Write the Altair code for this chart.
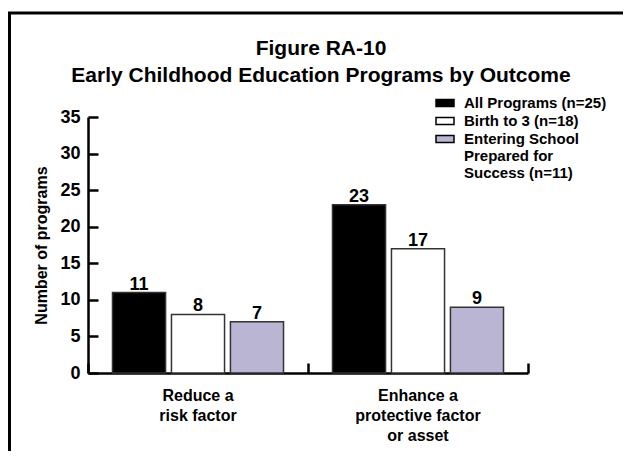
import altair as alt
import pandas as pd

categories = ["Reduce a\nrisk factor", "Enhance a\nprotective factor\nor asset"]
series = ["All Programs (n=25)", "Birth to 3 (n=18)", "Entering School\nPrepared for\nSuccess (n=11)"]
all_programs = [11, 23]
birth_to_3 = [8, 17]
entering_school = [7, 9]
colors = ["#000000", "#FFFFFF", "#B9B5D3"]
y_ticks = [0, 5, 10, 15, 20, 25, 30, 35]

rows = []
for i, cat in enumerate(categories):
    for s, vals in zip(series, [all_programs, birth_to_3, entering_school]):
        rows.append({"outcome": cat, "series": s, "value": vals[i]})
df = pd.DataFrame(rows)

FONT = "Liberation Sans, Arial, Helvetica, sans-serif"
W, H = 440, 256

x_scale = alt.Scale(domain=categories, paddingInner=0, paddingOuter=0)
y_scale = alt.Scale(domain=[0, 35], nice=False)
off_scale = alt.Scale(domain=series, paddingInner=0.1, paddingOuter=0.415)

base = alt.Chart(df)

bars = base.mark_bar(stroke="#333333", strokeWidth=1.5).encode(
    x=alt.X("outcome:N", sort=categories, scale=x_scale, title=None,
            axis=alt.Axis(orient="bottom", domainColor="black", domainWidth=2.5,
                          ticks=False, labelAngle=0, labelFontSize=16,
                          labelFontWeight="bold", labelColor="black", labelFont=FONT,
                          labelPadding=14, labelLineHeight=20, labelBaseline="top",
                          labelExpr="split(datum.label, '\\n')")),
    xOffset=alt.XOffset("series:N", sort=series, scale=off_scale),
    y=alt.Y("value:Q", scale=y_scale, title="Number of programs",
            axis=alt.Axis(orient="left", values=y_ticks, domainColor="black",
                          domainWidth=2.5, ticks=False, tickSize=0, grid=False,
                          labelFontSize=18, labelFontWeight="bold", labelColor="black",
                          labelFont=FONT, labelPadding=8, titleFontSize=16,
                          titleFontWeight="bold", titleColor="black", titleFont=FONT,
                          titlePadding=10)),
    color=alt.Color("series:N", sort=series,
                    scale=alt.Scale(domain=series, range=colors),
                    legend=alt.Legend(title=None, orient="none", legendX=347, legendY=-24,
                                      symbolType="M-1,-0.39H1V0.39H-1Z", symbolSize=324,
                                      symbolStrokeColor="black", symbolStrokeWidth=1.5,
                                      labelFontSize=15, labelFontWeight="bold",
                                      labelColor="black", labelFont=FONT, labelOffset=9,
                                      labelLimit=300, rowPadding=-1,
                                      labelExpr="split(datum.label, '\\n')")),
)

labels = base.mark_text(fontSize=18, fontWeight="bold", font=FONT, color="black",
                        baseline="alphabetic", dy=-3).encode(
    x=alt.X("outcome:N", sort=categories, scale=x_scale, title=None,
            axis=alt.Axis(orient="top", offset=-H, labels=False, domain=False,
                          ticks=True, tickBand="extent", tickSize=10, tickWidth=2.5,
                          tickColor="black")),
    xOffset=alt.XOffset("series:N", sort=series, scale=off_scale),
    y=alt.Y("value:Q", scale=y_scale, title=None,
            axis=alt.Axis(orient="right", offset=-W, values=y_ticks, labels=False,
                          domain=False, grid=False, ticks=True, tickSize=10,
                          tickWidth=2.5, tickColor="black")),
    text="value:Q",
)

frame_left = alt.Chart(pd.DataFrame({"a": [0]})).mark_rule(color="black", strokeWidth=3).encode(
    x=alt.value(-78.5), y=alt.value(-104), y2=alt.value(400))
frame_top = alt.Chart(pd.DataFrame({"a": [0]})).mark_rule(color="black", strokeWidth=3).encode(
    x=alt.value(-80), x2=alt.value(600), y=alt.value(-104))

chart = alt.layer(frame_left, frame_top, bars, labels).resolve_axis(
    x="independent", y="independent"
).properties(
    width=W, height=H,
    title=alt.TitleParams(["Figure RA-10", "Early Childhood Education Programs by Outcome"],
                          anchor="middle", frame="group", fontSize=21, fontWeight="bold",
                          font=FONT, color="black", lineHeight=27, dx=13, offset=-74),
    autosize=alt.AutoSizeParams(type="none"),
    padding={"left": 80, "top": 109, "right": 95, "bottom": 78},
).configure(background="white", view=alt.ViewConfig(stroke=None))

chart.save("out.html", embed_options={"renderer": "svg", "actions": False})
